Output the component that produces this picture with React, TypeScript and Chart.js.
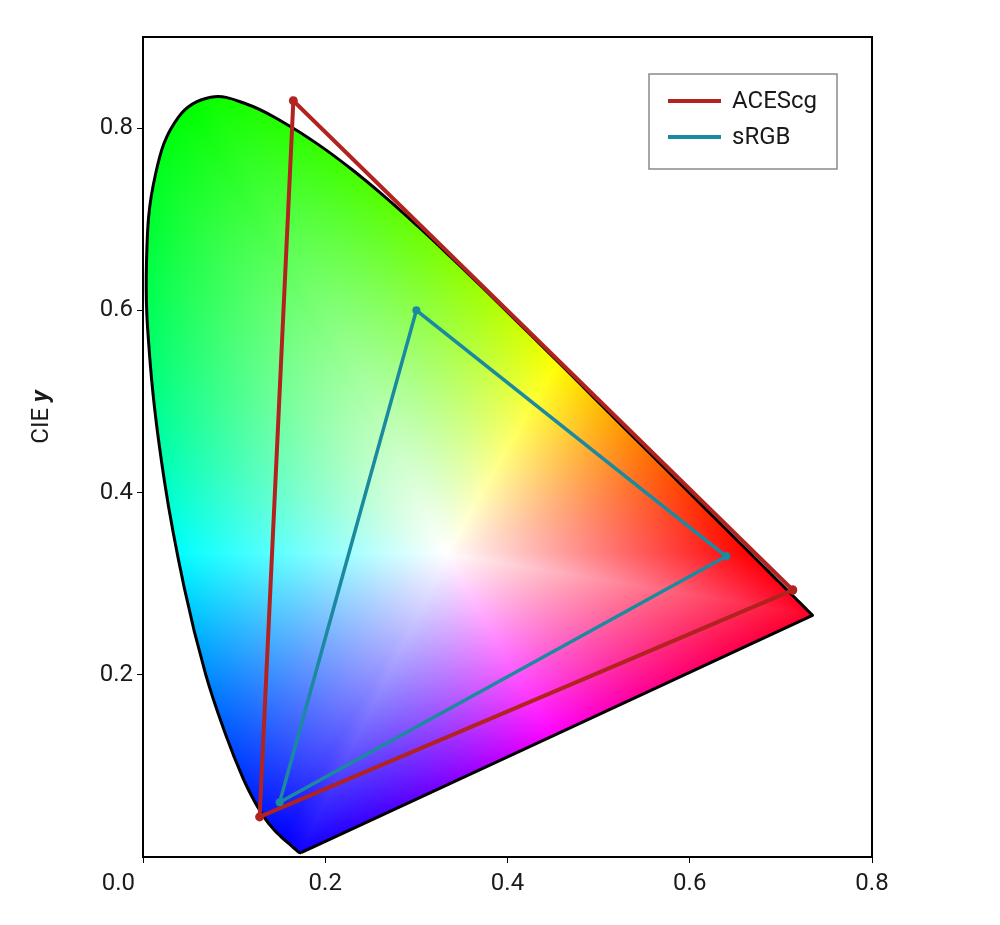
import React, { useEffect, useRef } from "react";
import { Chart, registerables } from "chart.js";

Chart.register(...registerables);

// CIE 1931 2° spectral locus, 380–700 nm in 5 nm steps
const LOCUS_X = [
  0.1741, 0.174, 0.1738, 0.1736, 0.1733, 0.173, 0.1726, 0.1721, 0.1714, 0.1703,
  0.1689, 0.1669, 0.1644, 0.1611, 0.1566, 0.151, 0.144, 0.1355, 0.1241, 0.1096,
  0.0913, 0.0687, 0.0454, 0.0235, 0.0082, 0.0039, 0.0139, 0.0389, 0.0743, 0.1142,
  0.1547, 0.1929, 0.2296, 0.2658, 0.3016, 0.3373, 0.3731, 0.4087, 0.4441, 0.4788,
  0.5125, 0.5448, 0.5752, 0.6029, 0.627, 0.6482, 0.6658, 0.6801, 0.6915, 0.7006,
  0.7079, 0.714, 0.719, 0.723, 0.726, 0.7283, 0.73, 0.7311, 0.732, 0.7327, 0.7334,
  0.734, 0.7344, 0.7346, 0.7347,
];
const LOCUS_Y = [
  0.005, 0.005, 0.0049, 0.0049, 0.0048, 0.0048, 0.0048, 0.0048, 0.0051, 0.0058,
  0.0069, 0.0086, 0.0109, 0.0138, 0.0177, 0.0227, 0.0297, 0.0399, 0.0578, 0.0868,
  0.1327, 0.2007, 0.295, 0.4127, 0.5384, 0.6548, 0.7502, 0.812, 0.8338, 0.8262,
  0.8059, 0.7816, 0.7543, 0.7243, 0.6923, 0.6589, 0.6245, 0.5896, 0.5547, 0.5202,
  0.4866, 0.4544, 0.4242, 0.3965, 0.3725, 0.3514, 0.334, 0.3197, 0.3083, 0.2993,
  0.292, 0.2859, 0.2809, 0.277, 0.274, 0.2717, 0.27, 0.2689, 0.268, 0.2673, 0.2666,
  0.266, 0.2656, 0.2654, 0.2653,
];

// Primaries (R, G, B)
const ACESCG_X = [0.713, 0.165, 0.128];
const ACESCG_Y = [0.293, 0.83, 0.044];
const SRGB_X = [0.64, 0.3, 0.15];
const SRGB_Y = [0.33, 0.6, 0.06];

// White point used for the colour fill (equal energy)
const WHITE_X = 1 / 3;
const WHITE_Y = 1 / 3;

const X_TICKS = [0, 0.2, 0.4, 0.6, 0.8];
const Y_TICKS = [0.2, 0.4, 0.6, 0.8];

const ACES_COLOR = "#b2231f";
const SRGB_COLOR = "#1b8aa0";
const FONT = "Roboto";
const TEXT_COLOR = "#1a1a1a";

const closed = (xs: number[], ys: number[]) => {
  const pts = xs.map((x, i) => ({ x, y: ys[i] }));
  pts.push({ ...pts[0] });
  return pts;
};

// distance from the white point to the locus boundary, per direction
const buildDistLut = (N: number) => {
  const poly = LOCUS_X.map((x, i) => ({ x, y: LOCUS_Y[i] }));
  const dist = new Float32Array(N);
  for (let n = 0; n < N; n++) {
    const th = -Math.PI + (2 * Math.PI * (n + 0.5)) / N;
    const dx = Math.cos(th), dy = Math.sin(th);
    let best = Infinity;
    for (let k = 0; k < poly.length; k++) {
      const A = poly[k], B = poly[(k + 1) % poly.length];
      const ex = B.x - A.x, ey = B.y - A.y;
      const den = dx * ey - dy * ex;
      if (Math.abs(den) < 1e-14) continue;
      const wx = A.x - WHITE_X, wy = A.y - WHITE_Y;
      const s = (wx * ey - wy * ex) / den;
      const u = (wx * dy - wy * dx) / den;
      if (u >= -1e-9 && u <= 1 + 1e-9 && s > 0 && s < best) best = s;
    }
    dist[n] = best;
  }
  return dist;
};

const pureHue = (hDeg: number): number[] => {
  const h6 = (((hDeg % 360) + 360) % 360) / 60;
  const i = Math.floor(h6);
  const f = h6 - i;
  switch (i) {
    case 0: return [1, f, 0];
    case 1: return [1 - f, 1, 0];
    case 2: return [0, 1, f];
    case 3: return [0, 1 - f, 1];
    case 4: return [f, 0, 1];
    default: return [1, 0, 1 - f];
  }
};

const diagramFill = {
  id: "diagramFill",
  beforeDatasetsDraw(chart: any) {
    const { ctx, chartArea: a, scales } = chart;
    const xs = scales.x;
    const ys = scales.y;
    const w = Math.ceil(a.right - a.left);
    const h = Math.ceil(a.bottom - a.top);
    const off = document.createElement("canvas");
    off.width = w;
    off.height = h;
    const octx = off.getContext("2d")!;
    const img = octx.createImageData(w, h);
    const d = img.data;
    const N = 8192;
    const dist = buildDistLut(N);
    for (let j = 0; j < h; j++) {
      const cy = ys.getValueForPixel(a.top + j + 0.5);
      for (let i = 0; i < w; i++) {
        const k = (j * w + i) * 4;
        const cx = xs.getValueForPixel(a.left + i + 0.5);
        const dx = cx - WHITE_X, dy = cy - WHITE_Y;
        const ang = Math.atan2(dy, dx);
        let n = Math.floor(((ang + Math.PI) / (2 * Math.PI)) * N);
        if (n < 0) n = 0;
        if (n >= N) n = N - 1;
        const t = Math.min(1, Math.hypot(dx, dy) / dist[n]);
        const c = pureHue((ang * 180) / Math.PI);
        d[k] = Math.round(255 * (1 - t + c[0] * t));
        d[k + 1] = Math.round(255 * (1 - t + c[1] * t));
        d[k + 2] = Math.round(255 * (1 - t + c[2] * t));
        d[k + 3] = 255;
      }
    }
    octx.putImageData(img, 0, 0);
    ctx.save();
    ctx.beginPath();
    let ok = false;
    try {
      const line = chart.getDatasetMeta(0).dataset;
      if (line && typeof line.path === "function") {
        if (typeof line.updateControlPoints === "function") line.updateControlPoints(a, "x");
        line.path(ctx);
        ok = true;
      }
    } catch (e) {
      ok = false;
    }
    if (!ok) {
      ctx.beginPath();
      LOCUS_X.forEach((v, k) => {
        const px = xs.getPixelForValue(v);
        const py = ys.getPixelForValue(LOCUS_Y[k]);
        if (k) ctx.lineTo(px, py); else ctx.moveTo(px, py);
      });
    }
    ctx.closePath();
    ctx.clip();
    ctx.drawImage(off, a.left, a.top);
    ctx.restore();

    // frame
    ctx.save();
    ctx.strokeStyle = "#000";
    ctx.lineWidth = 2;
    ctx.strokeRect(a.left, a.top, a.right - a.left, a.bottom - a.top);
    ctx.restore();
  },
};

const decorations = {
  id: "decorations",
  afterDraw(chart: any) {
    const { ctx, chartArea: a } = chart;
    ctx.save();
    // y axis title "CIE y" with bold italic y
    const f1 = `24px ${FONT}`;
    const f2 = `italic bold 24px ${FONT}`;
    ctx.font = f1;
    const w1 = ctx.measureText("CIE ").width;
    ctx.font = f2;
    const w2 = ctx.measureText("y").width;
    ctx.translate(42, (a.top + a.bottom) / 2 - 30);
    ctx.rotate(-Math.PI / 2);
    ctx.fillStyle = TEXT_COLOR;
    ctx.textBaseline = "middle";
    ctx.textAlign = "left";
    ctx.font = f1;
    ctx.fillText("CIE ", -(w1 + w2) / 2, 0);
    ctx.font = f2;
    ctx.fillText("y", -(w1 + w2) / 2 + w1, 0);
    ctx.restore();

    // corner "0.0" label of x axis
    ctx.save();
    ctx.font = `24px ${FONT}`;
    ctx.fillStyle = TEXT_COLOR;
    ctx.textAlign = "right";
    ctx.textBaseline = "middle";
    ctx.fillText(X_TICKS[0].toFixed(1), a.left - 8, a.bottom + 27);
    ctx.restore();

    // legend
    const bx = a.right - 223, by = a.top + 37, bw = 188, bh = 95;
    ctx.save();
    ctx.fillStyle = "#fff";
    ctx.fillRect(bx, by, bw, bh);
    ctx.strokeStyle = "#8a8a8a";
    ctx.lineWidth = 1.5;
    ctx.strokeRect(bx, by, bw, bh);
    const items = chart.data.datasets.filter((ds: any) => ds.showInLegend);
    items.forEach((ds: any, i: number) => {
      const yy = by + 27 + i * 36;
      ctx.strokeStyle = ds.borderColor;
      ctx.lineWidth = 4;
      ctx.beginPath();
      ctx.moveTo(bx + 19, yy);
      ctx.lineTo(bx + 72, yy);
      ctx.stroke();
      ctx.fillStyle = TEXT_COLOR;
      ctx.font = `24px ${FONT}`;
      ctx.textBaseline = "middle";
      ctx.textAlign = "left";
      ctx.fillText(ds.label, bx + 83, yy + 1);
    });
    ctx.restore();
  },
};

export default function App() {
  const ref = useRef<HTMLCanvasElement>(null);
  useEffect(() => {
    if (!ref.current) return;
    const chart = new Chart(ref.current, {
      type: "scatter",
      data: {
        datasets: [
          {
            label: "Spectral locus",
            data: closed(LOCUS_X, LOCUS_Y),
            showLine: true,
            borderColor: "#000",
            borderWidth: 3,
            pointRadius: 0,
            fill: false,
            tension: 0.4,
            order: 3,
            borderJoinStyle: "round",
          } as any,
          {
            label: "ACEScg",
            showInLegend: true,
            data: closed(ACESCG_X, ACESCG_Y),
            showLine: true,
            borderColor: ACES_COLOR,
            backgroundColor: ACES_COLOR,
            borderWidth: 4,
            pointRadius: 4.5,
            pointBorderWidth: 0,
            pointBackgroundColor: ACES_COLOR,
            order: 2,
          } as any,
          {
            label: "sRGB",
            showInLegend: true,
            data: closed(SRGB_X, SRGB_Y),
            showLine: true,
            borderColor: SRGB_COLOR,
            backgroundColor: SRGB_COLOR,
            borderWidth: 3.5,
            pointRadius: 4,
            pointBorderWidth: 0,
            pointBackgroundColor: SRGB_COLOR,
            order: 1,
          } as any,
        ],
      },
      options: {
        responsive: false,
        animation: false,
        layout: { padding: { top: 37, right: 128, left: 0, bottom: 0 } },
        plugins: { legend: { display: false }, tooltip: { enabled: false } },
        scales: {
          x: {
            type: "linear",
            min: 0,
            max: 0.8,
            afterBuildTicks: (s: any) => {
              s.ticks = X_TICKS.map((v) => ({ value: v }));
            },
            afterFit: (s: any) => {
              s.height = 68;
            },
            border: { display: false },
            grid: {
              drawOnChartArea: false,
              drawTicks: true,
              tickLength: 6,
              tickColor: "#000",
              tickWidth: 1,
            },
            ticks: {
              autoSkip: false,
              maxRotation: 0,
              padding: 7,
              color: TEXT_COLOR,
              font: { family: FONT, size: 24 },
              callback: (v: any) => (Number(v) === X_TICKS[0] ? "" : Number(v).toFixed(1)),
            },
          },
          y: {
            type: "linear",
            min: 0,
            max: 0.9,
            afterBuildTicks: (s: any) => {
              s.ticks = Y_TICKS.map((v) => ({ value: v }));
            },
            afterFit: (s: any) => {
              s.width = 143;
            },
            border: { display: false },
            grid: {
              drawOnChartArea: false,
              drawTicks: true,
              tickLength: 6,
              tickColor: "#000",
              tickWidth: 1,
            },
            ticks: {
              autoSkip: false,
              padding: 4,
              color: TEXT_COLOR,
              font: { family: FONT, size: 24 },
              callback: (v: any) => Number(v).toFixed(1),
            },
          },
        },
      },
      plugins: [diagramFill, decorations],
    });
    return () => chart.destroy();
  }, []);
  return (
    <div style={{ position: "absolute", left: 0, top: 0, width: 1000, height: 925, background: "#fff" }}>
      <canvas ref={ref} width={1000} height={925} />
    </div>
  );
}
